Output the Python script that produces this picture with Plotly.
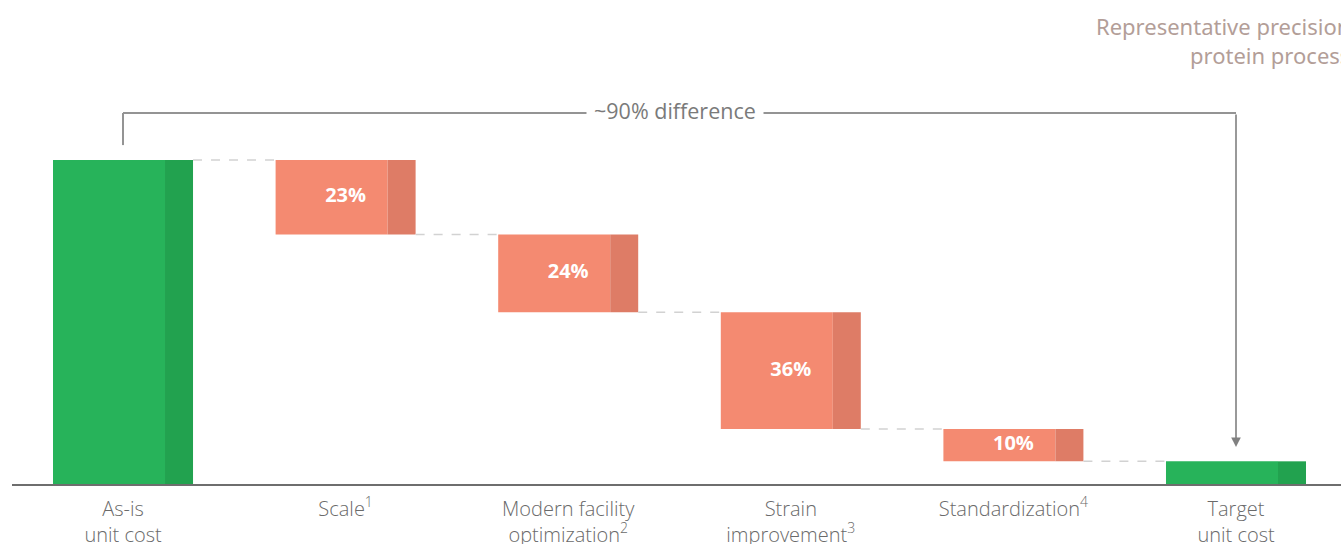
import plotly.graph_objects as go

# Waterfall steps from as-is to target unit cost
steps = [
    "As-is<br>unit cost",
    "Scale<sup>1</sup>",
    "Modern facility<br>optimization<sup>2</sup>",
    "Strain<br>improvement<sup>3</sup>",
    "Standardization<sup>4</sup>",
    "Target<br>unit cost",
]
as_is_cost = 100
reductions = [23, 24, 36, 10]
reduction_labels = ["23%", "24%", "36%", "10%"]
target_cost = 7
bracket_label = "~90% difference"
title_text = "Representative precision<br>protein process"

GREEN, GREEN_DARK = "#27b35a", "#22a24f"
SALMON, SALMON_DARK = "#f48a71", "#de7c66"

# Bar geometry derived from the values
positions = list(range(len(steps)))
bases, heights, fills, shades = [0], [as_is_cost], [GREEN], [GREEN_DARK]
levels = [as_is_cost]
level = as_is_cost
for r in reductions:
    level -= r
    bases.append(level)
    heights.append(r)
    fills.append(SALMON)
    shades.append(SALMON_DARK)
    levels.append(level)
bases.append(0)
heights.append(target_cost)
fills.append(GREEN)
shades.append(GREEN_DARK)

BAR_W = 0.629
SHADE_W = BAR_W * 0.2

fig = go.Figure()
fig.add_trace(go.Bar(
    x=positions, y=heights, base=bases,
    width=BAR_W - SHADE_W, offset=-BAR_W / 2,
    marker=dict(color=fills, line=dict(width=0)),
    hoverinfo="skip", showlegend=False,
))
fig.add_trace(go.Bar(
    x=positions, y=heights, base=bases,
    width=SHADE_W, offset=BAR_W / 2 - SHADE_W,
    marker=dict(color=shades, line=dict(width=0)),
    hoverinfo="skip", showlegend=False,
))

# Dashed connectors between consecutive bars
cx, cy = [], []
for i, lv in enumerate(levels):
    cx += [i + BAR_W / 2, i + 1 - BAR_W / 2, None]
    cy += [lv, lv, None]
fig.add_trace(go.Scatter(
    x=cx, y=cy, mode="lines",
    line=dict(color="#d2d2d2", width=1.5, dash="dash"),
    hoverinfo="skip", showlegend=False,
))

# Percentage labels on the reduction bars
fig.add_trace(go.Scatter(
    x=positions[1:5],
    y=[b + h / 2 for b, h in zip(bases[1:5], heights[1:5])],
    text=reduction_labels, mode="text",
    textfont=dict(color="white", size=20, family="Open Sans", weight="bold"),
    hoverinfo="skip", showlegend=False,
))

# Bracket showing the overall difference
top_y = as_is_cost + 14.5
stem_y = as_is_cost + 4.6
tip_y = target_cost + 4.4
line_style = dict(color="#949494", width=2)
fig.add_shape(type="line", x0=0, x1=0, y0=stem_y, y1=top_y, line=line_style)
fig.add_shape(type="line", x0=0, x1=positions[-1], y0=top_y, y1=top_y, line=line_style)
fig.add_annotation(
    x=positions[-1], y=tip_y, ax=positions[-1], ay=top_y,
    xref="x", yref="y", axref="x", ayref="y",
    text="", showarrow=True, arrowhead=2, arrowsize=1.2,
    arrowwidth=1.6, arrowcolor="#808080", standoff=0,
)
fig.add_annotation(
    x=2.48, y=top_y, xref="x", yref="y", yshift=3,
    text=bracket_label, showarrow=False,
    font=dict(size=21.5, color="#7a7a7a", family="Open Sans"),
    bgcolor="white", borderpad=7,
)

fig.add_annotation(
    x=1.008, y=0.982, xref="paper", yref="paper",
    xanchor="right", yanchor="top", align="right",
    text=title_text, showarrow=False,
    font=dict(size=22, color="#b39e98", family="Noto Sans"),
)

fig.update_layout(
    width=1341, height=544,
    margin=dict(l=12, r=0, t=0, b=60, autoexpand=False),
    plot_bgcolor="white", paper_bgcolor="white",
    barmode="overlay",
    xaxis=dict(
        range=[-0.4987, 5.4717],
        tickvals=positions, ticktext=steps,
        tickfont=dict(size=20, color="#6a6a6a", family="Open Sans", weight=300),
        ticklabelstandoff=6, automargin=False,
        showline=True, linecolor="#6e6e6e", linewidth=1.5,
        showgrid=False, zeroline=False, ticks="",
    ),
    yaxis=dict(range=[0, 149.38], visible=False, showgrid=False,
               zeroline=False, automargin=False),
)

fig.write_html("out.html")
